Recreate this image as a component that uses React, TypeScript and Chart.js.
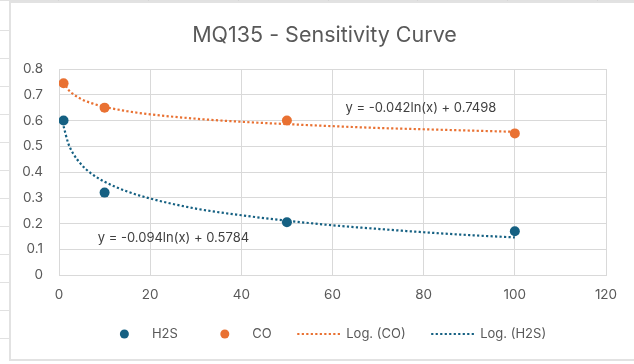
import React, { useEffect, useRef } from 'react';
import { Chart, registerables } from 'chart.js';

Chart.register(...registerables);

// ---- data ----
const h2sX = [1, 10, 50, 100];
const h2sY = [0.6, 0.32, 0.205, 0.17];
const coX = [1, 10, 50, 100];
const coY = [0.745, 0.65, 0.6, 0.55];
// trendline values
const trendX = [1, 2, 3, 5, 7, 10, 15, 20, 30, 40, 50, 60, 70, 80, 90, 100];
const logCoY = [0.75, 0.721, 0.704, 0.682, 0.668, 0.653, 0.636, 0.624, 0.607, 0.595, 0.586, 0.578, 0.571, 0.566, 0.561, 0.556];
const logH2sY = [0.578, 0.513, 0.475, 0.427, 0.395, 0.362, 0.324, 0.297, 0.258, 0.232, 0.211, 0.193, 0.179, 0.166, 0.155, 0.146];
const xTickLabels = ['0', '20', '40', '60', '80', '100', '120'];
const yTickLabels = ['0', '0.1', '0.2', '0.3', '0.4', '0.5', '0.6', '0.7', '0.8'];
const seriesNames = ['H2S', 'CO', 'Log. (CO)', 'Log. (H2S)'];
const equations = ['y = -0.042ln(x) + 0.7498', 'y = -0.094ln(x) + 0.5784'];
const titleText = 'MQ135 - Sensitivity Curve';

// ---- style ----
const FONT = 'Inter, "Liberation Sans", sans-serif';
const TEXT = '#595959';
const GRID = '#d9d9d9';
const TEAL = '#156082';
const ORANGE = '#E97132';
const FRAME_LEFT = 9;
const FRAME_WIDTH = 631;
const DOT_DASH = [2.2, 2.3];

const decorPlugin = {
  id: 'decor',
  afterDraw(chart: any) {
    const ctx = chart.ctx as CanvasRenderingContext2D;
    const xs = chart.scales.x;
    const ys = chart.scales.y;
    const centerX = FRAME_LEFT + FRAME_WIDTH / 2;
    ctx.save();
    // title
    ctx.fillStyle = TEXT;
    ctx.font = `21.5px ${FONT}`;
    ctx.textAlign = 'center';
    ctx.textBaseline = 'alphabetic';
    ctx.fillText(titleText, centerX, 41.5);

    // trendline equations (anchored in data units)
    ctx.font = `13px ${FONT}`;
    ctx.fillStyle = '#404040';
    const eqX = [79.4, 25.1];
    const eqY = [0.634, 0.128];
    equations.forEach((t, i) => {
      ctx.fillText(t, xs.getPixelForValue(eqX[i]), ys.getPixelForValue(eqY[i]));
    });

    // legend
    const ds = chart.data.datasets;
    ctx.font = `13px ${FONT}`;
    const keyW = 43;
    const gapKT = 6;
    const gapItem = 25.5;
    const widths = seriesNames.map((n) => ctx.measureText(n).width);
    const total = widths.reduce((a, b) => a + b, 0) + seriesNames.length * (keyW + gapKT) + (seriesNames.length - 1) * gapItem;
    let x = centerX - total / 2;
    const ly = 334;
    ctx.textAlign = 'left';
    ctx.textBaseline = 'middle';
    seriesNames.forEach((n, i) => {
      const d = ds[i];
      if (d.showLine) {
        ctx.strokeStyle = d.borderColor;
        ctx.lineWidth = d.borderWidth;
        ctx.setLineDash(DOT_DASH);
        ctx.beginPath();
        ctx.moveTo(x, ly);
        ctx.lineTo(x + keyW, ly);
        ctx.stroke();
        ctx.setLineDash([]);
      } else {
        ctx.fillStyle = d.backgroundColor;
        ctx.beginPath();
        ctx.arc(x + keyW / 2, ly, 4.5, 0, Math.PI * 2);
        ctx.fill();
      }
      ctx.fillStyle = TEXT;
      ctx.fillText(n, x + keyW + gapKT, ly + 0.5);
      x += keyW + gapKT + widths[i] + gapItem;
    });
    ctx.restore();
  },
};

export default function App() {
  const ref = useRef<HTMLCanvasElement | null>(null);
  useEffect(() => {
    if (!ref.current) return;
    const toPts = (xa: number[], ya: number[]) => xa.map((v, i) => ({ x: v, y: ya[i] }));
    const chart = new Chart(ref.current, {
      type: 'scatter',
      data: {
        datasets: [
          {
            label: seriesNames[0],
            data: toPts(h2sX, h2sY),
            backgroundColor: TEAL,
            borderColor: TEAL,
            pointRadius: 5,
            pointBorderWidth: 0,
            showLine: false,
            order: 0,
          },
          {
            label: seriesNames[1],
            data: toPts(coX, coY),
            backgroundColor: ORANGE,
            borderColor: ORANGE,
            pointRadius: 5,
            pointBorderWidth: 0,
            showLine: false,
            order: 0,
          },
          {
            label: seriesNames[2],
            data: toPts(trendX, logCoY),
            borderColor: ORANGE,
            backgroundColor: ORANGE,
            borderWidth: 2.2,
            borderDash: DOT_DASH,
            pointRadius: 0,
            showLine: true,
            cubicInterpolationMode: 'monotone',
            order: 1,
          } as any,
          {
            label: seriesNames[3],
            data: toPts(trendX, logH2sY),
            borderColor: TEAL,
            backgroundColor: TEAL,
            borderWidth: 2.2,
            borderDash: DOT_DASH,
            pointRadius: 0,
            showLine: true,
            cubicInterpolationMode: 'monotone',
            order: 1,
          } as any,
        ],
      },
      options: {
        animation: false,
        responsive: false,
        maintainAspectRatio: false,
        events: [],
        layout: { padding: { left: 0, right: 28, top: 69, bottom: 0 } },
        plugins: {
          legend: { display: false },
          title: { display: false },
          tooltip: { enabled: false },
        },
        scales: {
          x: {
            type: 'linear',
            min: 0,
            max: 120,
            afterFit: (s: any) => { s.height = 89; },
            ticks: {
              stepSize: 20,
              padding: 12,
              color: TEXT,
              font: { family: FONT, size: 13.5 },
              maxRotation: 0,
              callback: (v: any) => xTickLabels[Math.round(Number(v) / 20)] ?? '',
            },
            grid: { color: GRID, drawTicks: false, lineWidth: 1 },
            border: { display: true, color: GRID },
          },
          y: {
            type: 'linear',
            min: 0,
            max: 0.8,
            afterFit: (s: any) => { s.width = 59; },
            ticks: {
              stepSize: 0.1,
              padding: 16,
              color: TEXT,
              font: { family: FONT, size: 13.5 },
              callback: (v: any) => yTickLabels[Math.round(Number(v) * 10)] ?? '',
            },
            grid: { color: GRID, drawTicks: false, lineWidth: 1 },
            border: { display: true, color: GRID },
          },
        },
      },
      plugins: [decorPlugin],
    });
    return () => chart.destroy();
  }, []);

  const rows = [];
  for (let y = 30; y < 364; y += 28) rows.push(y);
  const cols = [58, 148, 238, 328, 417, 507, 597];

  return (
    <div style={{ position: 'fixed', left: 0, top: 0, width: 634, height: 364, background: '#fff', overflow: 'hidden' }}>
      <div style={{ position: 'absolute', left: 0, top: 0, width: 634, height: 1, background: '#e1e1e1' }} />
      {cols.map((c) => (
        <div key={c} style={{ position: 'absolute', left: c, top: 0, width: 1, height: 2, background: '#d6d6d6' }} />
      ))}
      {rows.map((r) => (
        <div key={r} style={{ position: 'absolute', left: 0, top: r, width: FRAME_LEFT, height: 1, background: '#e1e1e1' }} />
      ))}
      <div
        style={{
          position: 'absolute',
          left: FRAME_LEFT,
          top: 1,
          width: FRAME_WIDTH + 10,
          height: 360,
          boxSizing: 'border-box',
          border: '2px solid #e2e2e2',
          background: '#fff',
        }}
      />
      <canvas ref={ref} width={634} height={364} style={{ position: 'absolute', left: 0, top: 0, width: 634, height: 364 }} />
    </div>
  );
}
